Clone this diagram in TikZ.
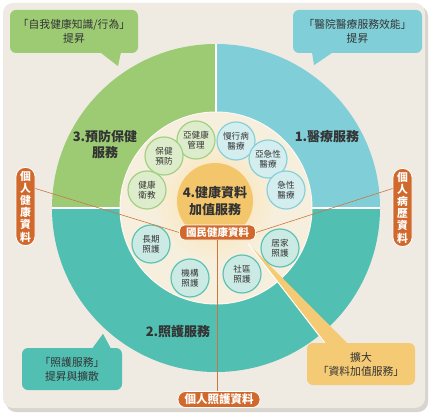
\documentclass[tikz,border=0pt]{standalone}
\usepackage{fontspec}
\setmainfont{Noto Sans CJK TC}
\usepackage{xcolor}
\usepackage{tikz}
\usetikzlibrary{positioning,calc}

\definecolor{cardbg}{HTML}{EFEBE2}
\definecolor{cardshade}{HTML}{D8D5CF}
\definecolor{cream}{HTML}{F7EFDE}
\definecolor{ringG}{HTML}{9CCB74}
\definecolor{ringB}{HTML}{80CFD8}
\definecolor{ringT}{HTML}{52BFB3}
\definecolor{gSoft}{HTML}{DDECCB}
\definecolor{gEdge}{HTML}{A4D083}
\definecolor{bSoft}{HTML}{D4EEF0}
\definecolor{bEdge}{HTML}{86D0D8}
\definecolor{tSoft}{HTML}{CCEAE4}
\definecolor{tEdge}{HTML}{5DC2B6}
\definecolor{pillOr}{HTML}{D0692B}
\definecolor{linkOr}{HTML}{C9773F}
\definecolor{calloutY}{HTML}{F4CA74}
\definecolor{coreY}{HTML}{F3C66C}
\definecolor{haloY}{HTML}{FADFA2}
\definecolor{ink}{HTML}{333333}

\begin{document}
\begin{tikzpicture}[x=1pt,y=-1pt,
  every node/.style={text=ink},
  minisvc/.style={circle,minimum size=38pt,inner sep=0pt,line width=1.2pt,
    align=center,font=\fontsize{8.6}{10}\selectfont},
  prevsvc/.style={minisvc,fill=gSoft,draw=gEdge},
  medsvc/.style={minisvc,fill=bSoft,draw=bEdge},
  caresvc/.style={minisvc,fill=tSoft,draw=tEdge},
  quadlbl/.style={align=center,font=\fontsize{13}{16}\selectfont\bfseries},
  vpill/.style={fill=pillOr,draw=white,line width=0.8pt,rounded corners=9pt,
    minimum width=19pt,minimum height=78pt,inner sep=0pt,align=center,
    text=white,font=\fontsize{10.8}{12.2}\selectfont\bfseries},
  hpill/.style={fill=pillOr,draw=white,line width=0.8pt,rounded corners=7.5pt,
    inner sep=0pt,text=white,font=\fontsize{10.5}{12}\selectfont\bfseries},
  bubble/.style={rounded corners=6pt,align=center,inner sep=0pt,
    font=\fontsize{10.8}{14}\selectfont},
  datalink/.style={draw=linkOr,line width=0.6pt}]

  \useasboundingbox (0,0) rectangle (435,419);
  % card
  \fill[white] (0,0) rectangle (435,419);
  \fill[cardshade,rounded corners=10pt] (6,6) rectangle (428,412);
  \fill[cardbg,rounded corners=10pt] (3,3) rectangle (425,408);

  % outer ring: 3 services
  \coordinate (hub) at (216,208);
  \fill[ringG] (hub) -- ++(180:164) arc[start angle=180,end angle=270,radius=164] -- cycle;
  \fill[ringB] (hub) -- ++(270:164) arc[start angle=270,end angle=360,radius=164] -- cycle;
  \fill[ringT] (hub) -- ++(0:164) arc[start angle=0,end angle=180,radius=164] -- cycle;
  \draw[white,line width=1.5pt] (hub) -- ++(0,-164);
  \draw[white,line width=1.5pt] ($(hub)+(-164,0)$) -- ($(hub)+(164,0)$);
  \node[quadlbl] (q3) at (105,145) {3.預防保健\\服務};
  \node[quadlbl] (q1) at (327,137) {1.醫療服務};
  \node[quadlbl] (q2) at (178,332) {2.照護服務};

  % inner area
  \fill[cream,draw=white!60!cream,line width=1pt] (hub) circle[radius=96];
  \shade[inner color=haloY,outer color=cream] (215,201) circle[radius=62];
  \node[circle,fill=coreY,minimum size=76pt,inner sep=0pt,align=center,
    font=\fontsize{13}{17}\selectfont\bfseries] (core) at (215,201) {4.健康資料\\加值服務};

  % small service circles
  \foreach \px/\py/\sty/\txt [count=\i] in {
      196/140/prevsvc/亞健康\\管理, 164/156/prevsvc/保健\\預防,
      147/190/prevsvc/健康\\衛教, 236/141/medsvc/慢行病\\醫療,
      268/159/medsvc/亞急性\\醫療, 286/190/medsvc/急性\\醫療,
      280/248/caresvc/居家\\照護, 242/274/caresvc/社區\\照護,
      190/278/caresvc/機構\\照護, 151/244/caresvc/長期\\照護} {
    \node[\sty] (s\i) at (\px,\py) {\txt};
  }

  % data pills
  \node[hpill,minimum width=76pt,minimum height=15pt,rounded corners=5pt] (ndata) at (217.5,232.5) {國民健康資料};
  \node[vpill] (lpill) at (25.5,206.5) {個\\人\\健\\康\\資\\料};
  \node[vpill] (rpill) at (402.5,207.5) {個\\人\\病\\歷\\資\\料};
  \node[hpill,minimum width=82pt,minimum height=16pt,font=\fontsize{11.5}{12}\selectfont\bfseries] (bpill) at (219,399.5) {個人照護資料};
  \draw[datalink] ([yshift=18pt]lpill.east) -- (ndata.west);
  \draw[datalink] ([yshift=19pt]rpill.west) -- (ndata.east);
  \draw[datalink] (ndata.south) -- (ndata.south |- bpill.north);

  % callouts
  \node[bubble,fill=ringG,minimum width=128pt,minimum height=43pt] (gbub) at (74,31.5) {「自我健康知識/行為」\\提昇};
  \fill[ringG] ($(gbub.south)+(26,-1)$) -- ($(gbub.south)+(44,13)$) -- ($(gbub.south)+(47,-1)$) -- cycle;
  \node[bubble,fill=ringB,minimum width=129pt,minimum height=43pt] (bbub) at (357.5,31.5) {「醫院醫療服務效能」\\提昇};
  \fill[ringB] ($(bbub.south)+(-45.5,-1)$) -- ($(bbub.south)+(-43.5,12)$) -- ($(bbub.south)+(-24.5,-1)$) -- cycle;
  \node[bubble,fill=ringT,minimum width=100pt,minimum height=42pt] (tbub) at (72,369) {「照護服務」\\提昇與擴散};
  \fill[ringT] ($(tbub.north)+(20,1)$) -- ($(tbub.north)+(31,-14)$) -- ($(tbub.north)+(39,1)$) -- cycle;
  \node[bubble,fill=calloutY,minimum width=108pt,minimum height=42pt] (ybox) at (361,364) {擴大\\「資料加值服務」};
  \fill[calloutY] ($(ndata.south east)+(-8,3)$) -- ($(ybox.north west)+(18,1)$) -- ($(ybox.north west)+(41,1)$) -- cycle;
  \draw[white,line width=1pt] ($(ndata.south east)+(-8,3)$) -- ($(ybox.north west)+(18,0)$);
\end{tikzpicture}
\end{document}
